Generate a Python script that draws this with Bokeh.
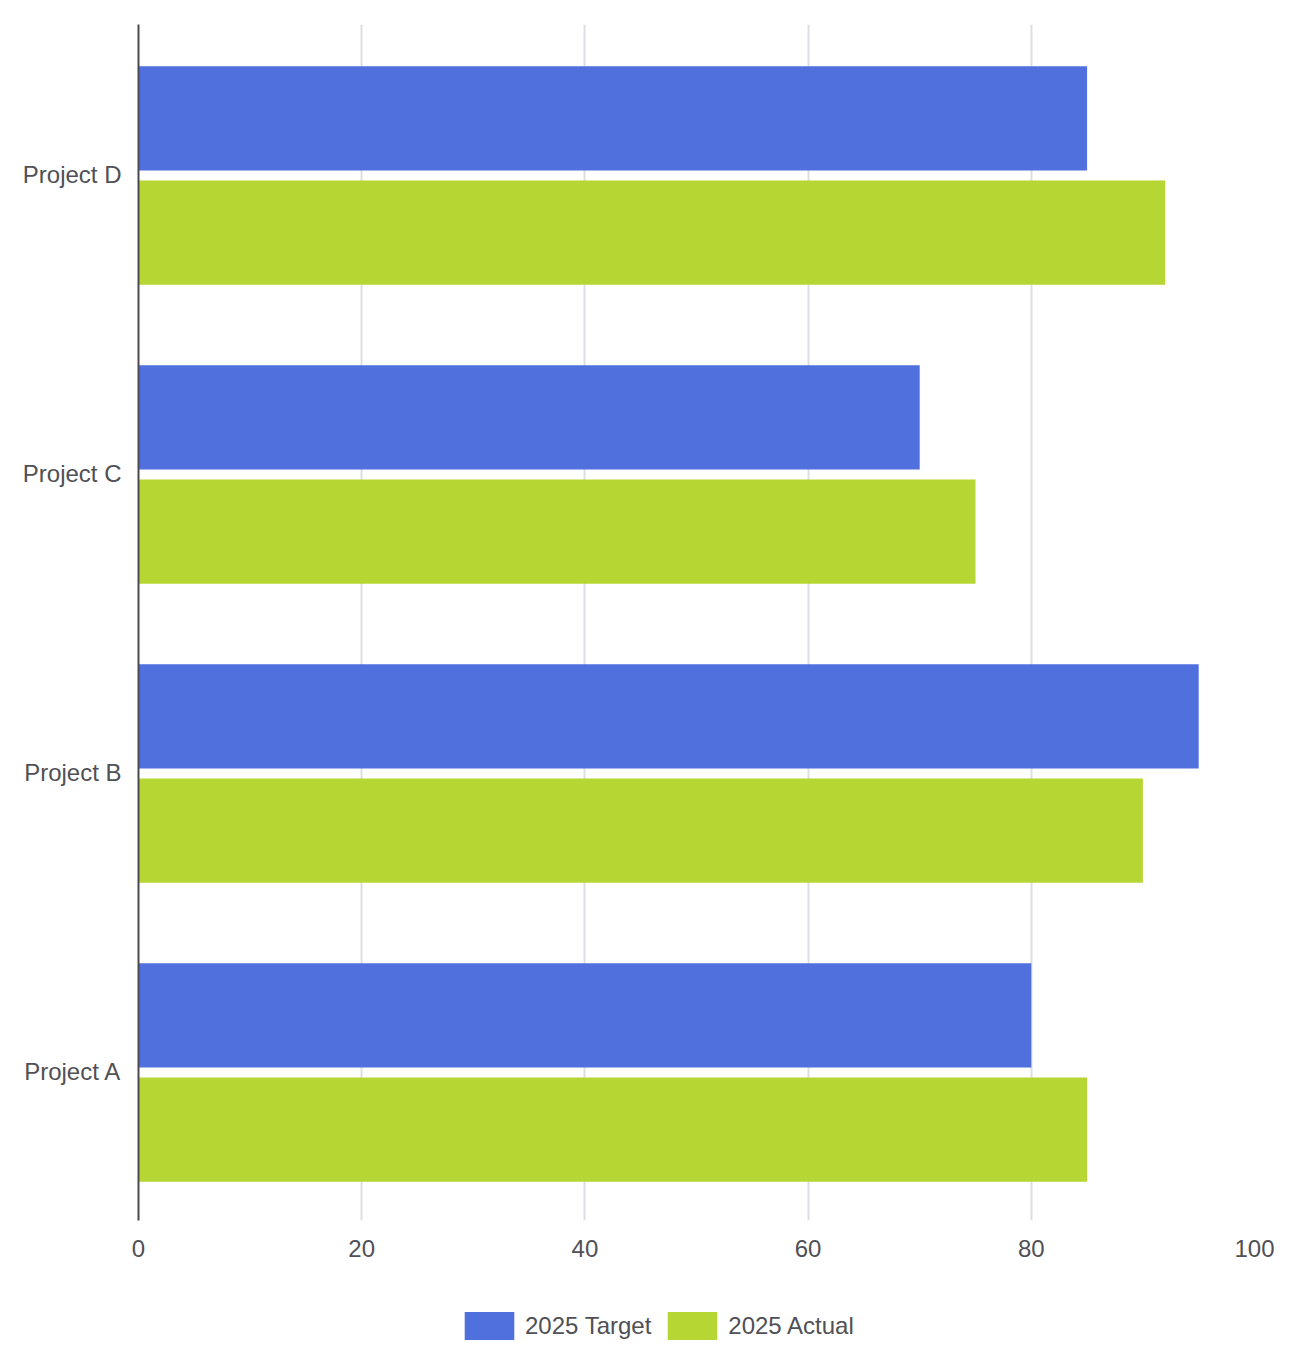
from bokeh.plotting import figure
from bokeh.layouts import column
from bokeh.models import ColumnDataSource, FactorRange, Range1d, Legend, LegendItem, FixedTicker
from bokeh.transform import dodge
from bokeh.embed import file_html
from bokeh.resources import INLINE

projects = ["Project A", "Project B", "Project C", "Project D"]
target_2025 = [80, 95, 70, 85]
actual_2025 = [85, 90, 75, 92]
x_ticks = [0, 20, 40, 60, 80, 100]
series_names = ["2025 Target", "2025 Actual"]

BLUE = "#5070dd"
GREEN = "#b6d634"
TEXT = "#505055"
FONT = "Liberation Sans"
FS = "24px"

src = ColumnDataSource(dict(project=projects, target=target_2025, actual=actual_2025))

p = figure(
    width=1290, height=1280,
    y_range=FactorRange(factors=projects),
    x_range=Range1d(0, 100),
    output_backend="svg", toolbar_location=None,
    min_border_left=138, min_border_right=36, min_border_top=24, min_border_bottom=60,
)
p.outline_line_color = None
p.background_fill_color = "white"

p.hbar(y=dodge("project", 0.186, range=p.y_range), right="target", left=0,
       height=0.349, source=src, fill_color=BLUE, line_color=None)
p.hbar(y=dodge("project", -0.196, range=p.y_range), right="actual", left=0,
       height=0.349, source=src, fill_color=GREEN, line_color=None)

# x axis
p.xaxis.ticker = FixedTicker(ticks=x_ticks)
p.xaxis.axis_line_color = None
p.xaxis.major_tick_line_color = None
p.xaxis.minor_tick_line_color = None
p.xaxis.major_tick_out = 0
p.xaxis.major_label_standoff = 19
p.xaxis.major_label_text_font = FONT
p.xaxis.major_label_text_font_size = FS
p.xaxis.major_label_text_color = TEXT

# y axis
p.yaxis.axis_line_color = "#4a4a4f"
p.yaxis.axis_line_width = 2
p.yaxis.major_tick_line_color = None
p.yaxis.minor_tick_line_color = None
p.yaxis.major_tick_out = 0
p.yaxis.major_label_standoff = 17
p.yaxis.major_label_text_font = FONT
p.yaxis.major_label_text_font_size = FS
p.yaxis.major_label_text_color = TEXT

p.xgrid.grid_line_color = "#dbdfe3"
p.xgrid.grid_line_width = 2
p.ygrid.grid_line_color = None

# legend strip below the chart (its frame is aligned with the chart frame)
lg = figure(
    width=1290, height=75,
    x_range=Range1d(0, 1), y_range=Range1d(0, 1),
    output_backend="svg", toolbar_location=None,
    min_border_left=138, min_border_right=36, min_border_top=0, min_border_bottom=0,
)
lg.axis.visible = False
lg.grid.visible = False
lg.outline_line_color = None

# zero-width placeholder bars: they only provide the legend swatches
lt = lg.hbar(y=[0], right=[0], left=0, height=0, fill_color=BLUE, line_color=None)
la = lg.hbar(y=[0], right=[0], left=0, height=0, fill_color=GREEN, line_color=None)

legend = Legend(
    items=[LegendItem(label=series_names[0], renderers=[lt]),
           LegendItem(label=series_names[1], renderers=[la])],
    orientation="horizontal", location=(320, 12),
    glyph_width=62, glyph_height=35, label_height=35,
    label_standoff=5, spacing=10, padding=0, margin=0,
    label_text_font=FONT, label_text_font_size=FS, label_text_color=TEXT,
    border_line_color=None, background_fill_alpha=0,
)
lg.add_layout(legend, "center")

layout = column(p, lg, spacing=0)
open("out.html", "w").write(file_html(layout, INLINE))
